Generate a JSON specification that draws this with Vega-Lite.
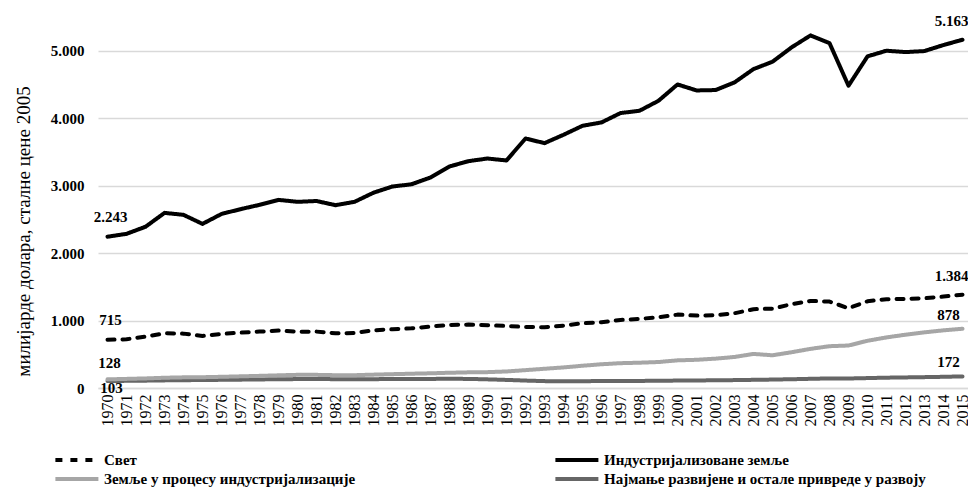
{
  "$schema": "https://vega.github.io/schema/vega-lite/v6.json",
  "autosize": "none",
  "width": 874,
  "height": 371,
  "padding": {"left": 98, "top": 17, "right": 0, "bottom": 104},
  "background": "white",
  "config": {
    "locale": {"number": {"decimal": ",", "thousands": ".", "grouping": [3], "currency": ["", ""]}},
    "view": {"stroke": null},
    "font": "Liberation Serif"
  },
  "data": {
    "values": [
      {"year": 1970, "Свет": 715, "Индустријализоване земље": 2243, "Земље у процесу индустријализације": 128, "Најмање развијене и остале привреде у развоју": 103},
      {"year": 1971, "Свет": 722, "Индустријализоване земље": 2285, "Земље у процесу индустријализације": 135, "Најмање развијене и остале привреде у развоју": 106},
      {"year": 1972, "Свет": 761, "Индустријализоване земље": 2390, "Земље у процесу индустријализације": 142, "Најмање развијене и остале привреде у развоју": 109},
      {"year": 1973, "Свет": 811, "Индустријализоване земље": 2596, "Земље у процесу индустријализације": 152, "Најмање развијене и остале привреде у развоју": 113},
      {"year": 1974, "Свет": 806, "Индустријализоване земље": 2567, "Земље у процесу индустријализације": 158, "Најмање развијене и остале привреде у развоју": 116},
      {"year": 1975, "Свет": 771, "Индустријализоване земље": 2433, "Земље у процесу индустријализације": 160, "Најмање развијене и остале привреде у развоју": 118},
      {"year": 1976, "Свет": 801, "Индустријализоване земље": 2580, "Земље у процесу индустријализације": 166, "Најмање развијене и остале привреде у развоју": 121},
      {"year": 1977, "Свет": 821, "Индустријализоване земље": 2651, "Земље у процесу индустријализације": 173, "Најмање развијене и остале привреде у развоју": 124},
      {"year": 1978, "Свет": 836, "Индустријализоване земље": 2715, "Земље у процесу индустријализације": 180, "Најмање развијене и остале привреде у развоју": 127},
      {"year": 1979, "Свет": 851, "Индустријализоване земље": 2789, "Земље у процесу индустријализације": 188, "Најмање развијене и остале привреде у развоју": 130},
      {"year": 1980, "Свет": 835, "Индустријализоване земље": 2760, "Земље у процесу индустријализације": 195, "Најмање развијене и остале привреде у развоју": 132},
      {"year": 1981, "Свет": 836, "Индустријализоване земље": 2772, "Земље у процесу индустријализације": 195, "Најмање развијене и остале привреде у развоју": 133},
      {"year": 1982, "Свет": 811, "Индустријализоване земље": 2710, "Земље у процесу индустријализације": 190, "Најмање развијене и остале привреде у развоју": 131},
      {"year": 1983, "Свет": 815, "Индустријализоване земље": 2760, "Земље у процесу индустријализације": 190, "Најмање развијене и остале привреде у развоју": 129},
      {"year": 1984, "Свет": 855, "Индустријализоване земље": 2895, "Земље у процесу индустријализације": 198, "Најмање развијене и остале привреде у развоју": 131},
      {"year": 1985, "Свет": 871, "Индустријализоване земље": 2987, "Земље у процесу индустријализације": 205, "Најмање развијене и остале привреде у развоју": 133},
      {"year": 1986, "Свет": 885, "Индустријализоване земље": 3020, "Земље у процесу индустријализације": 212, "Најмање развијене и остале привреде у развоју": 134},
      {"year": 1987, "Свет": 910, "Индустријализоване земље": 3120, "Земље у процесу индустријализације": 218, "Најмање развијене и остале привреде у развоју": 135},
      {"year": 1988, "Свет": 935, "Индустријализоване земље": 3284, "Земље у процесу индустријализације": 226, "Најмање развијене и остале привреде у развоју": 136},
      {"year": 1989, "Свет": 940, "Индустријализоване земље": 3363, "Земље у процесу индустријализације": 232, "Најмање развијене и остале привреде у развоју": 135},
      {"year": 1990, "Свет": 930, "Индустријализоване земље": 3402, "Земље у процесу индустријализације": 235, "Најмање развијене и остале привреде у развоју": 128},
      {"year": 1991, "Свет": 920, "Индустријализоване земље": 3373, "Земље у процесу индустријализације": 245, "Најмање развијене и остале привреде у развоју": 120},
      {"year": 1992, "Свет": 905, "Индустријализоване земље": 3699, "Земље у процесу индустријализације": 265, "Најмање развијене и остале привреде у развоју": 110},
      {"year": 1993, "Свет": 900, "Индустријализоване земље": 3630, "Земље у процесу индустријализације": 285, "Најмање развијене и остале привреде у развоју": 102},
      {"year": 1994, "Свет": 925, "Индустријализоване земље": 3754, "Земље у процесу индустријализације": 305, "Најмање развијене и остале привреде у развоју": 100},
      {"year": 1995, "Свет": 960, "Индустријализоване земље": 3887, "Земље у процесу индустријализације": 330, "Најмање развијене и остале привреде у развоју": 101},
      {"year": 1996, "Свет": 975, "Индустријализоване земље": 3937, "Земље у процесу индустријализације": 352, "Најмање развијене и остале привреде у развоју": 103},
      {"year": 1997, "Свет": 1009, "Индустријализоване земље": 4076, "Земље у процесу индустријализације": 368, "Најмање развијене и остале привреде у развоју": 104},
      {"year": 1998, "Свет": 1024, "Индустријализоване земље": 4110, "Земље у процесу индустријализације": 375, "Најмање развијене и остале привреде у развоју": 105},
      {"year": 1999, "Свет": 1049, "Индустријализоване земље": 4258, "Земље у процесу индустријализације": 385, "Најмање развијене и остале привреде у развоју": 107},
      {"year": 2000, "Свет": 1088, "Индустријализоване земље": 4500, "Земље у процесу индустријализације": 410, "Најмање развијене и остале привреде у развоју": 110},
      {"year": 2001, "Свет": 1073, "Индустријализоване земље": 4411, "Земље у процесу индустријализације": 418, "Најмање развијене и остале привреде у развоју": 112},
      {"year": 2002, "Свет": 1078, "Индустријализоване земље": 4417, "Земље у процесу индустријализације": 435, "Најмање развијене и остале привреде у развоју": 114},
      {"year": 2003, "Свет": 1108, "Индустријализоване земље": 4530, "Земље у процесу индустријализације": 460, "Најмање развијене и остале привреде у развоју": 117},
      {"year": 2004, "Свет": 1168, "Индустријализоване земље": 4728, "Земље у процесу индустријализације": 505, "Најмање развијене и остале привреде у развоју": 121},
      {"year": 2005, "Свет": 1177, "Индустријализоване земље": 4837, "Земље у процесу индустријализације": 485, "Најмање развијене и остале привреде у развоју": 125},
      {"year": 2006, "Свет": 1242, "Индустријализоване земље": 5049, "Земље у процесу индустријализације": 530, "Најмање развијене и остале привреде у развоју": 130},
      {"year": 2007, "Свет": 1291, "Индустријализоване земље": 5227, "Земље у процесу индустријализације": 580, "Најмање развијене и остале привреде у развоју": 136},
      {"year": 2008, "Свет": 1281, "Индустријализоване земље": 5113, "Земље у процесу индустријализације": 620, "Најмање развијене и остале привреде у развоју": 142},
      {"year": 2009, "Свет": 1182, "Индустријализоване земље": 4481, "Земље у процесу индустријализације": 630, "Најмање развијене и остале привреде у развоју": 141},
      {"year": 2010, "Свет": 1286, "Индустријализоване земље": 4916, "Земље у процесу индустријализације": 700, "Најмање развијене и остале привреде у развоју": 147},
      {"year": 2011, "Свет": 1316, "Индустријализоване земље": 5000, "Земље у процесу индустријализације": 750, "Најмање развијене и остале привреде у развоју": 153},
      {"year": 2012, "Свет": 1321, "Индустријализоване земље": 4980, "Земље у процесу индустријализације": 790, "Најмање развијене и остале привреде у развоју": 157},
      {"year": 2013, "Свет": 1331, "Индустријализоване земље": 4995, "Земље у процесу индустријализације": 825, "Најмање развијене и остале привреде у развоју": 161},
      {"year": 2014, "Свет": 1355, "Индустријализоване земље": 5084, "Земље у процесу индустријализације": 855, "Најмање развијене и остале привреде у развоју": 166},
      {"year": 2015, "Свет": 1384, "Индустријализоване земље": 5163, "Земље у процесу индустријализације": 878, "Најмање развијене и остале привреде у развоју": 172}
    ]
  },
  "transform": [
    {"fold": ["Најмање развијене и остале привреде у развоју", "Земље у процесу индустријализације", "Свет", "Индустријализоване земље"], "as": ["series", "value"]}
  ],
  "encoding": {
    "x": {
      "field": "year", "type": "ordinal",
      "scale": {"type": "point", "padding": 0.5},
      "axis": {
        "title": null, "labelAngle": -90, "labelFont": "Liberation Serif", "labelFontSize": 16,
        "labelColor": "#000000", "labelPadding": 6, "ticks": false, "domainColor": "#d9d9d9",
        "domainWidth": 1.5, "grid": false, "labelOverlap": false
      }
    },
    "y": {
      "field": "value", "type": "quantitative",
      "scale": {"domain": [0, 5500], "nice": false},
      "axis": {
        "title": "милијарде долара, сталне цене 2005",
        "titleFont": "Liberation Serif", "titleFontSize": 19, "titleFontWeight": "normal",
        "titleColor": "#000000", "titleX": -75, "titleY": 214, "titleAngle": -90,
        "titleAlign": "center", "titleBaseline": "middle",
        "values": [0, 1000, 2000, 3000, 4000, 5000], "format": ",d",
        "labelFont": "Liberation Serif", "labelFontSize": 15, "labelFontWeight": "bold",
        "labelColor": "#000000", "labelPadding": 14, "ticks": false, "domain": false,
        "gridColor": "#d9d9d9", "gridWidth": 1.5
      }
    }
  },
  "layer": [
    {
      "mark": {"type": "line", "strokeWidth": 4, "strokeCap": "round", "strokeJoin": "round"},
      "encoding": {
        "color": {
          "field": "series", "type": "nominal",
          "scale": {
            "domain": ["Свет", "Земље у процесу индустријализације", "Индустријализоване земље", "Најмање развијене и остале привреде у развоју"],
            "range": ["#000000", "#a6a6a6", "#000000", "#666666"]
          },
          "legend": {
            "title": null, "orient": "none", "legendX": -45, "legendY": 432, "columns": 2,
            "columnPadding": 191, "rowPadding": -2, "symbolType": "M-1,0L4,0", "symbolSize": 296,
            "symbolStrokeWidth": 4, "labelFont": "Liberation Serif", "labelFontSize": 15,
            "labelFontWeight": "bold", "labelColor": "#000000", "labelOffset": 29, "labelLimit": 0
          }
        },
        "strokeDash": {
          "field": "series", "type": "nominal",
          "scale": {
            "domain": ["Свет", "Земље у процесу индустријализације", "Индустријализоване земље", "Најмање развијене и остале привреде у развоју"],
            "range": [[7, 8], [1, 0], [1, 0], [1, 0]]
          },
          "legend": {
            "title": null, "orient": "none", "legendX": -45, "legendY": 432, "columns": 2,
            "columnPadding": 191, "rowPadding": -2, "symbolType": "M-1,0L4,0", "symbolSize": 296,
            "symbolStrokeWidth": 4, "labelFont": "Liberation Serif", "labelFontSize": 15,
            "labelFontWeight": "bold", "labelColor": "#000000", "labelOffset": 29, "labelLimit": 0
          }
        }
      }
    },
    {
      "transform": [
        {"filter": {"field": "year", "equal": 1970}},
        {"filter": {"field": "series", "oneOf": ["Свет", "Индустријализоване земље"]}}
      ],
      "mark": {"type": "text", "font": "Liberation Serif", "fontSize": 15, "fontWeight": "bold", "color": "#000000", "dx": 3, "dy": -20, "baseline": "middle", "align": "center"},
      "encoding": {"text": {"field": "value", "type": "quantitative", "format": ",d"}}
    },
    {
      "transform": [
        {"filter": {"field": "year", "equal": 1970}},
        {"filter": {"field": "series", "equal": "Земље у процесу индустријализације"}}
      ],
      "mark": {"type": "text", "font": "Liberation Serif", "fontSize": 15, "fontWeight": "bold", "color": "#000000", "dx": 2, "dy": -16, "baseline": "middle", "align": "center"},
      "encoding": {"text": {"field": "value", "type": "quantitative", "format": ",d"}}
    },
    {
      "transform": [
        {"filter": {"field": "year", "equal": 1970}},
        {"filter": {"field": "series", "equal": "Најмање развијене и остале привреде у развоју"}}
      ],
      "mark": {"type": "text", "font": "Liberation Serif", "fontSize": 15, "fontWeight": "bold", "color": "#000000", "dx": 4, "dy": 7, "baseline": "middle", "align": "center"},
      "encoding": {"text": {"field": "value", "type": "quantitative", "format": ",d"}}
    },
    {
      "transform": [
        {"filter": {"field": "year", "equal": 2015}},
        {"filter": {"field": "series", "oneOf": ["Свет", "Индустријализоване земље"]}}
      ],
      "mark": {"type": "text", "font": "Liberation Serif", "fontSize": 15, "fontWeight": "bold", "color": "#000000", "dx": -11, "dy": -19, "baseline": "middle", "align": "center"},
      "encoding": {"text": {"field": "value", "type": "quantitative", "format": ",d"}}
    },
    {
      "transform": [
        {"filter": {"field": "year", "equal": 2015}},
        {"filter": {"field": "series", "oneOf": ["Земље у процесу индустријализације", "Најмање развијене и остале привреде у развоју"]}}
      ],
      "mark": {"type": "text", "font": "Liberation Serif", "fontSize": 15, "fontWeight": "bold", "color": "#000000", "dx": -14, "dy": -14, "baseline": "middle", "align": "center"},
      "encoding": {"text": {"field": "value", "type": "quantitative", "format": ",d"}}
    }
  ]
}
